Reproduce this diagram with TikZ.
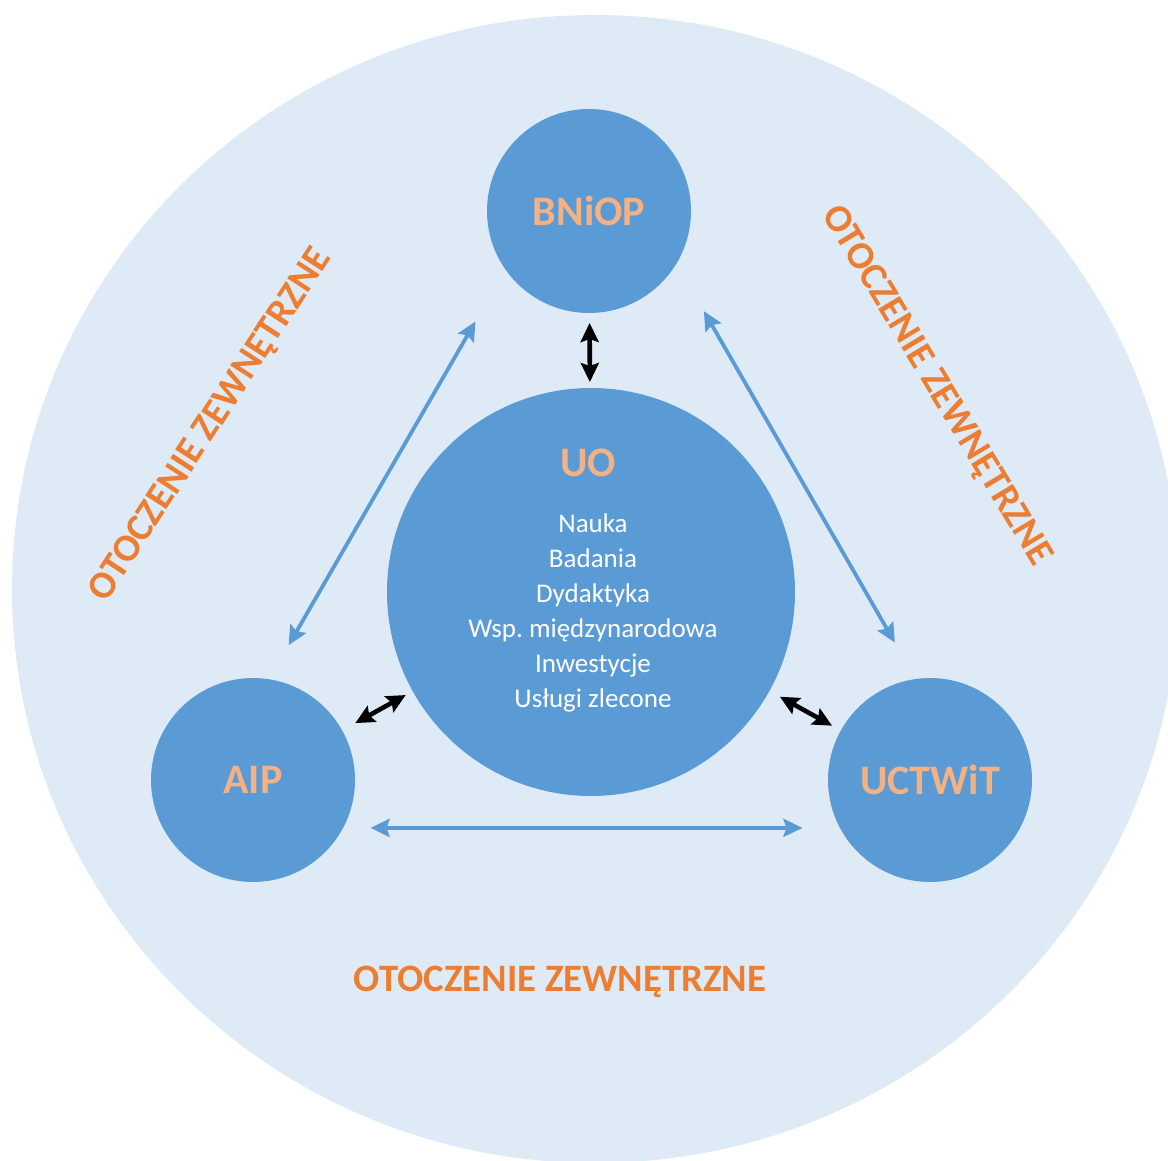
\documentclass[tikz,border=0pt]{standalone}
\usepackage{fontspec}
\setmainfont{Carlito}
\frenchspacing
\usetikzlibrary{arrows.meta, positioning}
\definecolor{tlo}{HTML}{DEEBF7}
\definecolor{kolo}{HTML}{5B9BD5}
\definecolor{nazwa}{HTML}{F4B183}
\definecolor{pomarancz}{HTML}{ED7D31}
\tikzset{
>={Stealth[length=9.5pt, width=9pt, inset=1.5pt]}, % arrow heads
jednostka/.style={circle, fill=kolo, minimum size=102pt, inner sep=0pt, outer sep=0pt, text=nazwa, font=\fontsize{21}{24}\selectfont\bfseries}, % small circles
uczelnia/.style={jednostka, minimum size=204pt}, % the big circle in the middle
lista/.style={text=white, inner sep=0pt, font=\fontsize{13.5}{16}\selectfont},
otoczenie/.style={text=pomarancz, font=\fontsize{19.4}{22}\selectfont\bfseries},
wspolpraca/.style={<->, draw=kolo, line width=1.9pt},
zaleznosc/.style={<->, draw=black, line width=2.3pt},
}

\begin{document}
\begin{tikzpicture}[x=0.5pt, y=-0.5pt]
    \useasboundingbox (0,0) rectangle (1168,1161);
    \clip (0,0) rectangle (1168,1161);
    \fill[tlo] (595,589) ellipse [x radius=583, y radius=574];

    \node[uczelnia] (uo) at (591,592) {};
    \node[jednostka] (bniop) at (589,211) {BNiOP};
    \node[jednostka] (aip) at (253,780) {AIP};
    \node[jednostka] (uctwit) at (930,780) {UCTWiT};

    \node[text=nazwa, inner sep=0pt, font=\fontsize{21}{24}\selectfont\bfseries, anchor=base] (uo-nazwa) at (588,476) {UO};
    \foreach \tekst [count=\i] in {Nauka, Badania, Dydaktyka, Wsp. międzynarodowa, Inwestycje, Usługi zlecone}
        \node[lista, anchor=base] (uo-\i) at (593,497+35*\i) {\tekst};

    \node[otoczenie, rotate=57] (otoczenie-l) at (211,425) {OTOCZENIE ZEWNĘTRZNE};
    \node[otoczenie, rotate=-59] (otoczenie-p) at (936,386) {OTOCZENIE ZEWNĘTRZNE};
    \node[otoczenie] (otoczenie-d) at (560,982) {OTOCZENIE ZEWNĘTRZNE};

    \draw[zaleznosc, shorten <=5pt, shorten >=3pt] (bniop) -- (uo);
    \draw[zaleznosc, shorten <=7.5pt, shorten >=4pt] (aip) -- (uo);
    \draw[zaleznosc, shorten <=6pt, shorten >=5pt] (uo) -- (uctwit);

    \draw[wspolpraca, shorten <=19.7pt, shorten >=30pt] (aip.81) -- (bniop.215.5);
    \draw[wspolpraca, shorten <=27.5pt, shorten >=21pt] (bniop.-31) -- (uctwit.98.8);
    \draw[wspolpraca, shorten <=13.75pt, shorten >=18.75pt] (aip.-28.7) -- (uctwit.208.7);
\end{tikzpicture}
\end{document}
